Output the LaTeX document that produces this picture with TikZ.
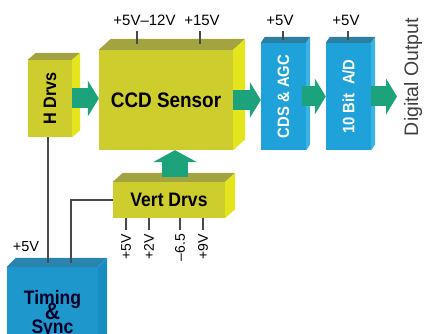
\documentclass[tikz,border=0pt]{standalone}
\usepackage{graphicx}
\usepackage{fontspec}
\setmainfont{Liberation Sans}
\newfontfamily\boxfont[FakeStretch=0.9]{Liberation Sans}
\usetikzlibrary{arrows.meta}

\definecolor{yfront}{HTML}{CDCD2D}
\definecolor{ytop}{HTML}{A3A340}
\definecolor{yside}{HTML}{E5E51E}
\definecolor{bfront}{HTML}{1FA2DA}
\definecolor{btop}{HTML}{2C7FA0}
\definecolor{bside}{HTML}{3AB3E3}
\definecolor{tfront}{HTML}{1E98CC}
\definecolor{ttop}{HTML}{2B84AE}
\definecolor{tside}{HTML}{1A8DC0}
\definecolor{gflow}{HTML}{1CA37C}
\definecolor{wire}{HTML}{4A4A4A}

% top and right faces of a box node: node, dx, dy, top colour, side colour
\newcommand{\boxfaces}[5]{%
  \fill[#4] (#1.north west) -- ++(#2,#3) -- ([shift={(#2,#3)}]#1.north east) -- (#1.north east) -- cycle;
  \fill[#5] (#1.north east) -- ++(#2,#3) -- ([shift={(#2,#3)}]#1.south east) -- (#1.south east) -- cycle;
}

\begin{document}
\begin{tikzpicture}[x=1pt, y=1pt,
  ybox/.style={rectangle, fill=yfront, inner sep=0pt, text=black},
  bbox/.style={rectangle, fill=bfront, inner sep=0pt, text=white},
  volt/.style={inner sep=0pt, font=\fontsize{15}{15}\selectfont},
  wire/.style={draw=wire, line width=1.4pt},
  flow/.style={draw=gflow, line width=20pt, -{Triangle[width=36pt, length=11pt, line width=0pt]}}]

  \clip (0,0) rectangle (425,-334);

  \node[ybox, minimum width=134pt, minimum height=100pt, font=\boxfont\bfseries\fontsize{21}{21}\selectfont] (ccd) at (166,-100) {CCD Sensor};
  \node[ybox, minimum width=44pt, minimum height=77pt, font=\boxfont\bfseries\fontsize{18}{18}\selectfont] (hdrv) at (50,-98.5) {\rotatebox{90}{H Drvs}};
  \node[bbox, minimum width=45pt, minimum height=107pt, font=\boxfont\bfseries\fontsize{16.5}{16.5}\selectfont] (cds) at (283.5,-96.5) {\rotatebox{90}{CDS \& AGC}};
  \node[bbox, minimum width=45pt, minimum height=107pt, font=\boxfont\bfseries\fontsize{16.5}{16.5}\selectfont] (ad) at (348.5,-96.5) {\rotatebox{90}{10 Bit\ \ A/D}};
  \node[ybox, minimum width=112pt, minimum height=36pt, font=\boxfont\bfseries\fontsize{19.5}{19.5}\selectfont] (vert) at (169,-200) {Vert Drvs};
  \node[rectangle, fill=tfront, inner sep=0pt, minimum width=91pt, minimum height=94pt, align=center, text=black!85!blue, font=\boxfont\bfseries\fontsize{19.5}{19.5}\selectfont] (timing) at (52.5,-314) {Timing\\[-6pt]\scalebox{1.2}{\&}\\[-6pt]Sync};

  \boxfaces{ccd}{12}{11}{ytop}{yside}
  \boxfaces{hdrv}{8}{7}{ytop}{yside}
  \boxfaces{cds}{4}{6}{btop}{bside}
  \boxfaces{ad}{4}{6}{btop}{bside}
  \boxfaces{vert}{10}{9}{ytop}{yside}
  \boxfaces{timing}{9}{9}{ttop}{tside}

  \node[volt] (vccd) at (144.5,-20.5) {+5V--12V};
  \node[volt] (vccdb) at (202,-20.5) {+15V};
  \node[volt] (vcds) at (280,-20.5) {+5V};
  \node[volt] (vad) at (346,-20.5) {+5V};
  \node[volt, font=\fontsize{14.5}{14.5}\selectfont] (vtim) at (26,-247) {+5V};
  \node[inner sep=0pt, rotate=90, text=black!75, font=\fontsize{19.5}{19.5}\selectfont] (dout) at (413,-77) {Digital Output};
  \coordinate (outend) at (397,-95);

  \draw[wire] ([shift={(-7.5,-5)}]vccd.south) -- ++(0,-13);
  \draw[wire] ([shift={(-2,-5)}]vccdb.south) -- ++(0,-13);
  \draw[wire] ([shift={(3,-5)}]vcds.south) -- ++(0,-9);
  \draw[wire] ([shift={(2,-5)}]vad.south) -- ++(0,-9);

  \foreach \x/\v [count=\i] in {126/+5V, 149/+2V, 180/--6.5, 203/+9V}{
    \node[volt, font=\fontsize{14}{14}\selectfont, rotate=90, anchor=east] (vv\i) at (\x,-234) {\v};
    \draw[wire] (vert.south -| vv\i.east) -- ([yshift=4pt]vv\i.east);
  }

  \draw[wire] ([xshift=-2pt]hdrv.south) -- ([shift={(-4.5,4)}]timing.north);
  \draw[wire] (vert.west) -| ([shift={(18.5,4)}]timing.north);

  \draw[flow] (hdrv.east) -- (hdrv.east -| ccd.west);
  \draw[flow] (ccd.east) -- (ccd.east -| cds.west);
  \draw[flow] ([xshift=-4pt]cds.east) -- (cds.east -| ad.west);
  \draw[flow] (ad.east) -- (ad.east -| outend);
  \draw[flow, line width=26pt, -{Triangle[width=44pt, length=12pt, line width=0pt]}] ([shift={(6,5)}]vert.north) -- ([xshift=6pt]vert.north |- ccd.south);

\end{tikzpicture}
\end{document}
